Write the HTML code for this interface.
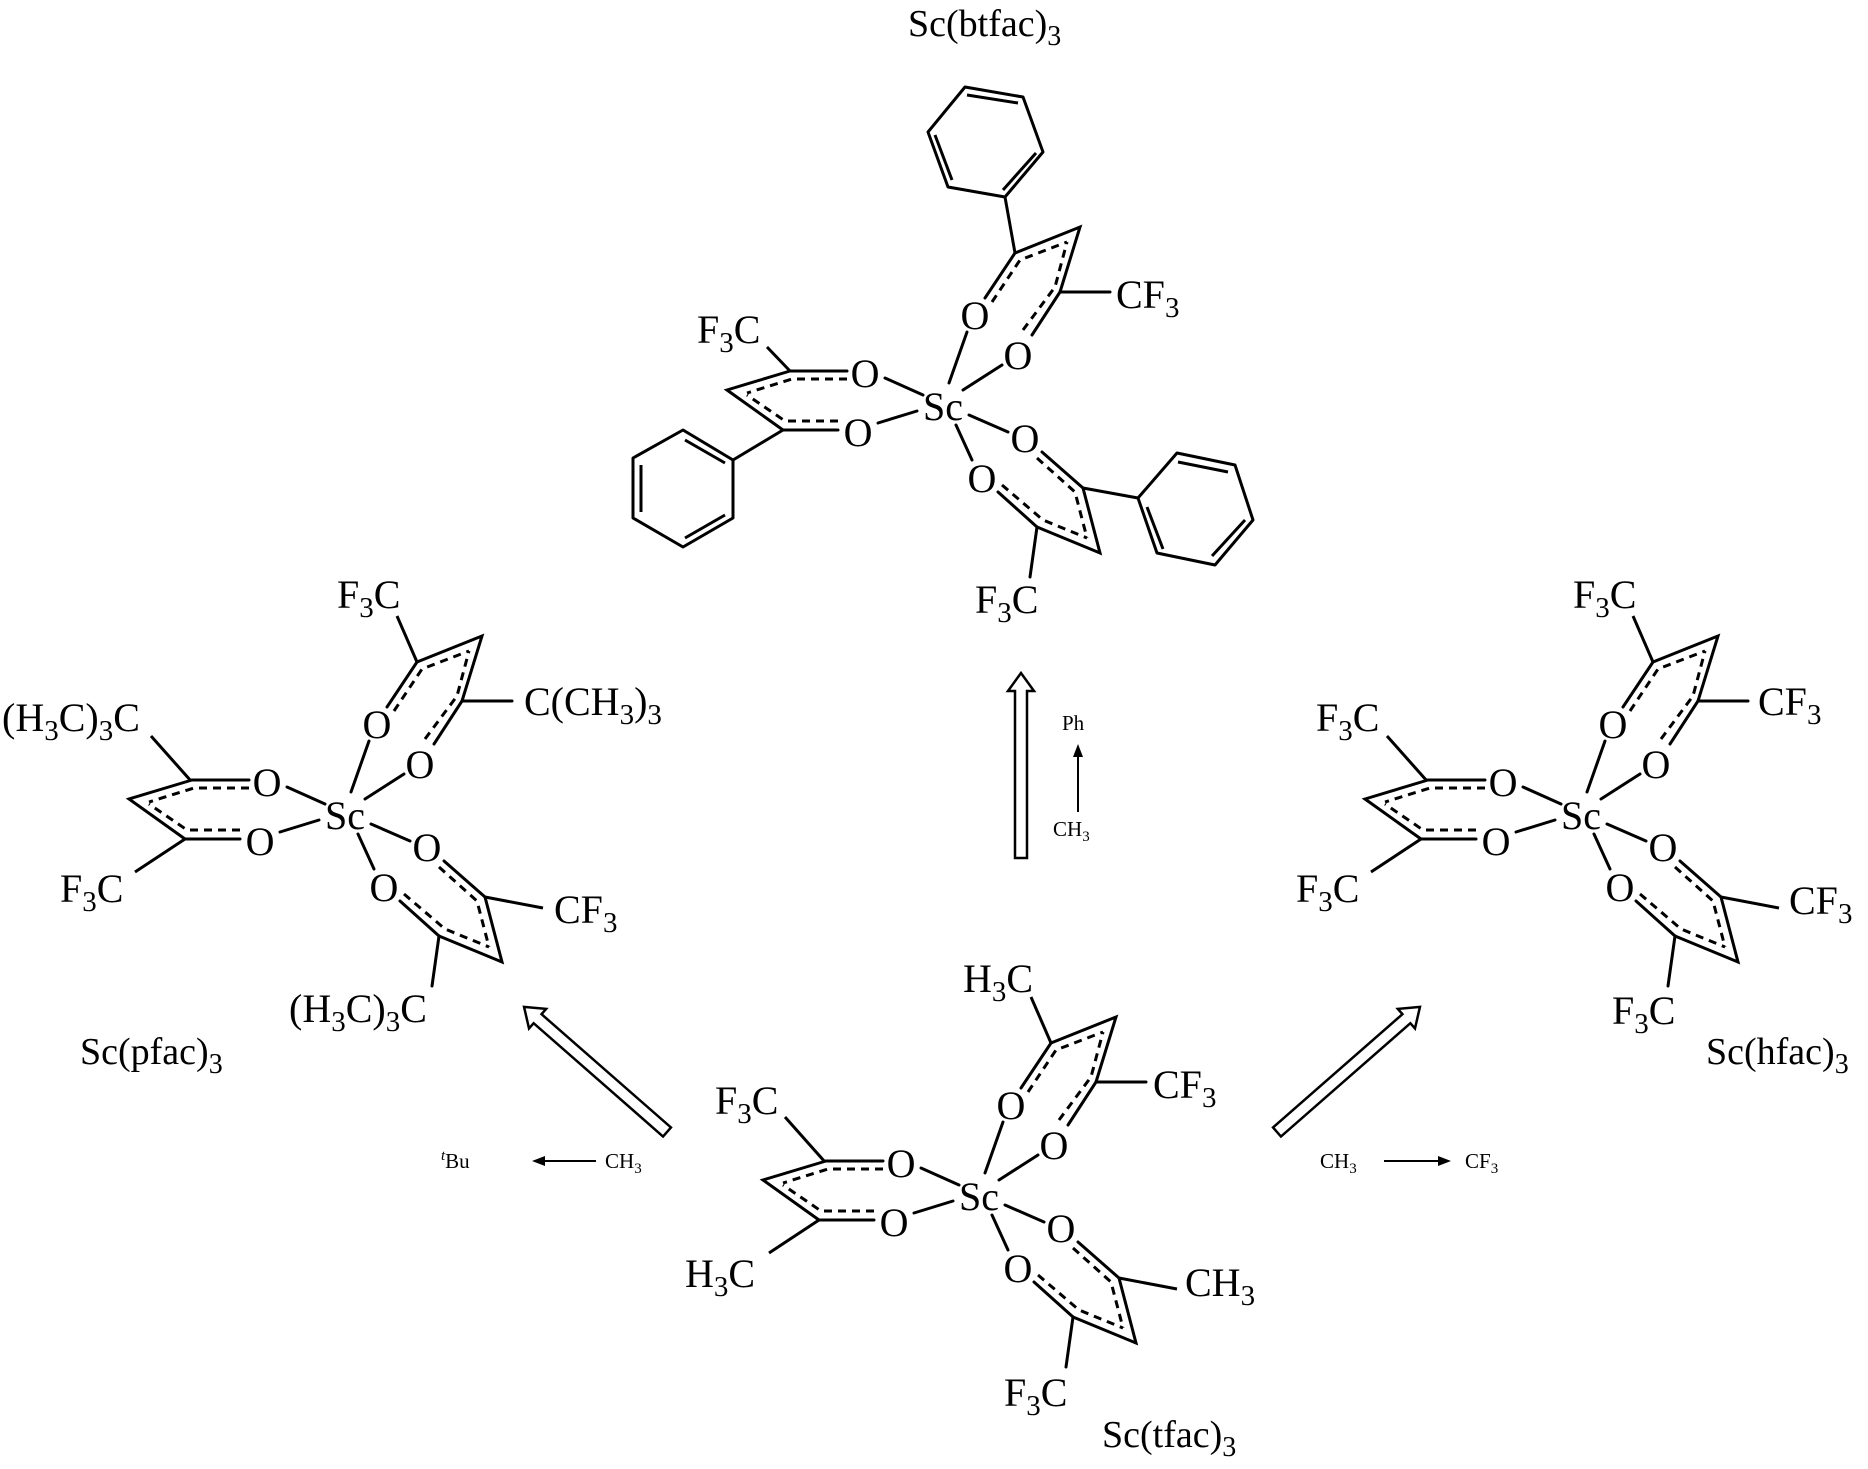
<!DOCTYPE html>
<html><head><meta charset="utf-8"><style>
html,body{margin:0;padding:0;background:#fff;}
svg{display:block}
text{font-family:"Liberation Serif",serif;fill:#000;}
</style></head><body>
<svg width="1868" height="1469" viewBox="0 0 1868 1469" xmlns="http://www.w3.org/2000/svg">
<defs>
<g id="core" stroke="#000" stroke-width="3" fill="none" stroke-linecap="round">
  <polyline points="-153,-36 -216,-17 -160,23"/>
  <line x1="-153" y1="-36" x2="-96" y2="-36"/>
  <line x1="-160" y1="23" x2="-105" y2="23"/>
  <g stroke-dasharray="8,6" stroke-linecap="butt">
    <polyline points="-96,-28 -151,-28 -196,-14"/>
    <polyline points="-105,14 -158,14 -196,-12"/>
  </g>
  <polyline points="72,-154 137,-180 117,-115"/>
  <line x1="72" y1="-154" x2="42" y2="-109"/>
  <line x1="117" y1="-115" x2="89" y2="-72"/>
  <g stroke-dasharray="8,6" stroke-linecap="butt">
    <polyline points="49,-105 77,-147 124,-165"/>
    <polyline points="80,-77 112,-120 124,-165"/>
  </g>
  <polyline points="140,81 157,146 94,120"/>
  <line x1="99" y1="45" x2="140" y2="81"/>
  <line x1="55" y1="85" x2="94" y2="120"/>
  <g stroke-dasharray="8,6" stroke-linecap="butt">
    <polyline points="94,51 132,85 144,131"/>
    <polyline points="59,78 100,113 144,131"/>
  </g>
  <line x1="-58" y1="-29" x2="-20" y2="-12"/>
  <line x1="-65" y1="16" x2="-26" y2="4"/>
  <line x1="6" y1="-24" x2="24" y2="-75"/>
  <line x1="20" y1="-17" x2="59" y2="-42"/>
  <line x1="26" y1="8" x2="65" y2="25"/>
  <line x1="13" y1="18" x2="29" y2="53"/>
  <line x1="117" y1="-115" x2="167" y2="-115"/>
  <line x1="94" y1="120" x2="87" y2="170"/>
</g>
</defs>

<!-- ============ Sc(btfac)3 ============ -->
<text x="908" y="36" font-size="38">Sc(btfac)<tspan font-size="28" dy="9">3</tspan></text>
<g transform="translate(943,407)">
  <use href="#core"/>
  <g stroke="#000" stroke-width="3" fill="none">
    <line x1="-153" y1="-36" x2="-176" y2="-60"/>
    <line x1="-160" y1="23" x2="-210" y2="53"/>
    <line x1="72" y1="-154" x2="62" y2="-210"/>
    <line x1="140" y1="81" x2="195" y2="91"/>
  </g>
  <g font-size="40" text-anchor="middle">
    <text x="-78" y="-20">O</text><text x="-85" y="39">O</text>
    <text x="32" y="-78">O</text><text x="75" y="-38">O</text>
    <text x="82" y="45">O</text><text x="39" y="85">O</text>
    <text x="0" y="13">Sc</text>
  </g>
</g>
<g stroke="#000" stroke-width="3" fill="none" stroke-linejoin="round">
  <polygon points="733,460 683,430 633,458 633,518 683,547 733,518"/>
  <line x1="685" y1="440" x2="725" y2="463"/>
  <line x1="641" y1="465" x2="641" y2="512"/>
  <line x1="685" y1="538" x2="725" y2="515"/>
  <polygon points="1005,197 948,187 928,132 965,87 1023,97 1043,152"/>
  <line x1="1003" y1="190" x2="1036" y2="153"/>
  <line x1="935" y1="135" x2="952" y2="180"/>
  <line x1="967" y1="95" x2="1018" y2="103"/>
  <polygon points="1138,498 1177,453 1235,465 1253,520 1215,565 1157,553"/>
  <line x1="1178" y1="462" x2="1228" y2="472"/>
  <line x1="1147" y1="507" x2="1163" y2="549"/>
  <line x1="1212" y1="556" x2="1245" y2="520"/>
</g>
<text x="697" y="343" font-size="40">F<tspan font-size="29" dy="9">3</tspan><tspan dy="-9">C</tspan></text>
<text x="1116" y="308" font-size="40">CF<tspan font-size="29" dy="9">3</tspan></text>
<text x="975" y="613" font-size="40">F<tspan font-size="29" dy="9">3</tspan><tspan dy="-9">C</tspan></text>

<!-- ============ Sc(pfac)3 ============ -->
<g transform="translate(345,816)">
  <use href="#core"/>
  <g stroke="#000" stroke-width="3" fill="none">
    <line x1="-154" y1="-35" x2="-194" y2="-80"/>
    <line x1="-160" y1="23" x2="-210" y2="56"/>
    <line x1="72" y1="-154" x2="52" y2="-200"/>
    <line x1="140" y1="81" x2="198" y2="92"/>
  </g>
  <g font-size="40" text-anchor="middle">
    <text x="-78" y="-20">O</text><text x="-85" y="39">O</text>
    <text x="32" y="-78">O</text><text x="75" y="-38">O</text>
    <text x="82" y="45">O</text><text x="39" y="85">O</text>
    <text x="0" y="13">Sc</text>
  </g>
</g>
<text x="337" y="608" font-size="40">F<tspan font-size="29" dy="9">3</tspan><tspan dy="-9">C</tspan></text>
<text x="524" y="715" font-size="40">C(CH<tspan font-size="29" dy="9">3</tspan><tspan dy="-9">)</tspan><tspan font-size="29" dy="9">3</tspan></text>
<text x="2" y="731" font-size="40">(H<tspan font-size="29" dy="9">3</tspan><tspan dy="-9">C)</tspan><tspan font-size="29" dy="9">3</tspan><tspan dy="-9">C</tspan></text>
<text x="60" y="902" font-size="40">F<tspan font-size="29" dy="9">3</tspan><tspan dy="-9">C</tspan></text>
<text x="554" y="923" font-size="40">CF<tspan font-size="29" dy="9">3</tspan></text>
<text x="289" y="1022" font-size="40">(H<tspan font-size="29" dy="9">3</tspan><tspan dy="-9">C)</tspan><tspan font-size="29" dy="9">3</tspan><tspan dy="-9">C</tspan></text>
<text x="80" y="1064" font-size="38">Sc(pfac)<tspan font-size="28" dy="9">3</tspan></text>

<!-- ============ Sc(hfac)3 ============ -->
<g transform="translate(1581,816)">
  <use href="#core"/>
  <g stroke="#000" stroke-width="3" fill="none">
    <line x1="-154" y1="-35" x2="-194" y2="-80"/>
    <line x1="-160" y1="23" x2="-210" y2="56"/>
    <line x1="72" y1="-154" x2="52" y2="-200"/>
    <line x1="140" y1="81" x2="198" y2="92"/>
  </g>
  <g font-size="40" text-anchor="middle">
    <text x="-78" y="-20">O</text><text x="-85" y="39">O</text>
    <text x="32" y="-78">O</text><text x="75" y="-38">O</text>
    <text x="82" y="45">O</text><text x="39" y="85">O</text>
    <text x="0" y="13">Sc</text>
  </g>
</g>
<text x="1573" y="608" font-size="40">F<tspan font-size="29" dy="9">3</tspan><tspan dy="-9">C</tspan></text>
<text x="1758" y="715" font-size="40">CF<tspan font-size="29" dy="9">3</tspan></text>
<text x="1316" y="731" font-size="40">F<tspan font-size="29" dy="9">3</tspan><tspan dy="-9">C</tspan></text>
<text x="1296" y="902" font-size="40">F<tspan font-size="29" dy="9">3</tspan><tspan dy="-9">C</tspan></text>
<text x="1789" y="914" font-size="40">CF<tspan font-size="29" dy="9">3</tspan></text>
<text x="1612" y="1024" font-size="40">F<tspan font-size="29" dy="9">3</tspan><tspan dy="-9">C</tspan></text>
<text x="1706" y="1064" font-size="38">Sc(hfac)<tspan font-size="28" dy="9">3</tspan></text>

<!-- ============ Sc(tfac)3 ============ -->
<g transform="translate(979,1197)">
  <use href="#core"/>
  <g stroke="#000" stroke-width="3" fill="none">
    <line x1="-154" y1="-35" x2="-194" y2="-80"/>
    <line x1="-160" y1="23" x2="-210" y2="56"/>
    <line x1="72" y1="-154" x2="52" y2="-200"/>
    <line x1="140" y1="81" x2="198" y2="92"/>
  </g>
  <g font-size="40" text-anchor="middle">
    <text x="-78" y="-20">O</text><text x="-85" y="39">O</text>
    <text x="32" y="-78">O</text><text x="75" y="-38">O</text>
    <text x="82" y="45">O</text><text x="39" y="85">O</text>
    <text x="0" y="13">Sc</text>
  </g>
</g>
<text x="963" y="992" font-size="40">H<tspan font-size="29" dy="9">3</tspan><tspan dy="-9">C</tspan></text>
<text x="1153" y="1098" font-size="40">CF<tspan font-size="29" dy="9">3</tspan></text>
<text x="715" y="1114" font-size="40">F<tspan font-size="29" dy="9">3</tspan><tspan dy="-9">C</tspan></text>
<text x="685" y="1287" font-size="40">H<tspan font-size="29" dy="9">3</tspan><tspan dy="-9">C</tspan></text>
<text x="1185" y="1296" font-size="40">CH<tspan font-size="29" dy="9">3</tspan></text>
<text x="1004" y="1406" font-size="40">F<tspan font-size="29" dy="9">3</tspan><tspan dy="-9">C</tspan></text>
<text x="1102" y="1447" font-size="38">Sc(tfac)<tspan font-size="28" dy="9">3</tspan></text>

<!-- ============ hollow arrows ============ -->
<g stroke="#000" stroke-width="2.5" fill="#fff" stroke-linejoin="miter">
  <polygon transform="translate(1021,858) rotate(-90)" points="0,-6 167,-6 167,-13 185,0 167,13 167,6 0,6"/>
  <polygon transform="translate(667,1132) rotate(221.2)" points="0,-6 172,-6 172,-13 190,0 172,13 172,6 0,6"/>
  <polygon transform="translate(1277,1132) rotate(-41.2)" points="0,-6 172,-6 172,-13 190,0 172,13 172,6 0,6"/>
</g>

<g stroke="#000" stroke-width="2" fill="#000">
  <line x1="1078" y1="812" x2="1078" y2="752"/>
  <polygon points="1078,744 1073,757 1083,757" stroke="none"/>
  <line x1="596" y1="1161" x2="540" y2="1161"/>
  <polygon points="532,1161 545,1156 545,1166" stroke="none"/>
  <line x1="1384" y1="1161" x2="1442" y2="1161"/>
  <polygon points="1451,1161 1438,1156 1438,1166" stroke="none"/>
</g>
<text x="1062" y="730" font-size="21">Ph</text>
<text x="1053" y="836" font-size="21">CH<tspan font-size="15" dy="5">3</tspan></text>
<text x="441" y="1168" font-size="21"><tspan font-style="italic" font-size="15" dy="-8">t</tspan><tspan dy="8">Bu</tspan></text>
<text x="605" y="1168" font-size="21">CH<tspan font-size="15" dy="5">3</tspan></text>
<text x="1320" y="1168" font-size="21">CH<tspan font-size="15" dy="5">3</tspan></text>
<text x="1465" y="1168" font-size="21">CF<tspan font-size="15" dy="5">3</tspan></text>
</svg>
</body></html>
